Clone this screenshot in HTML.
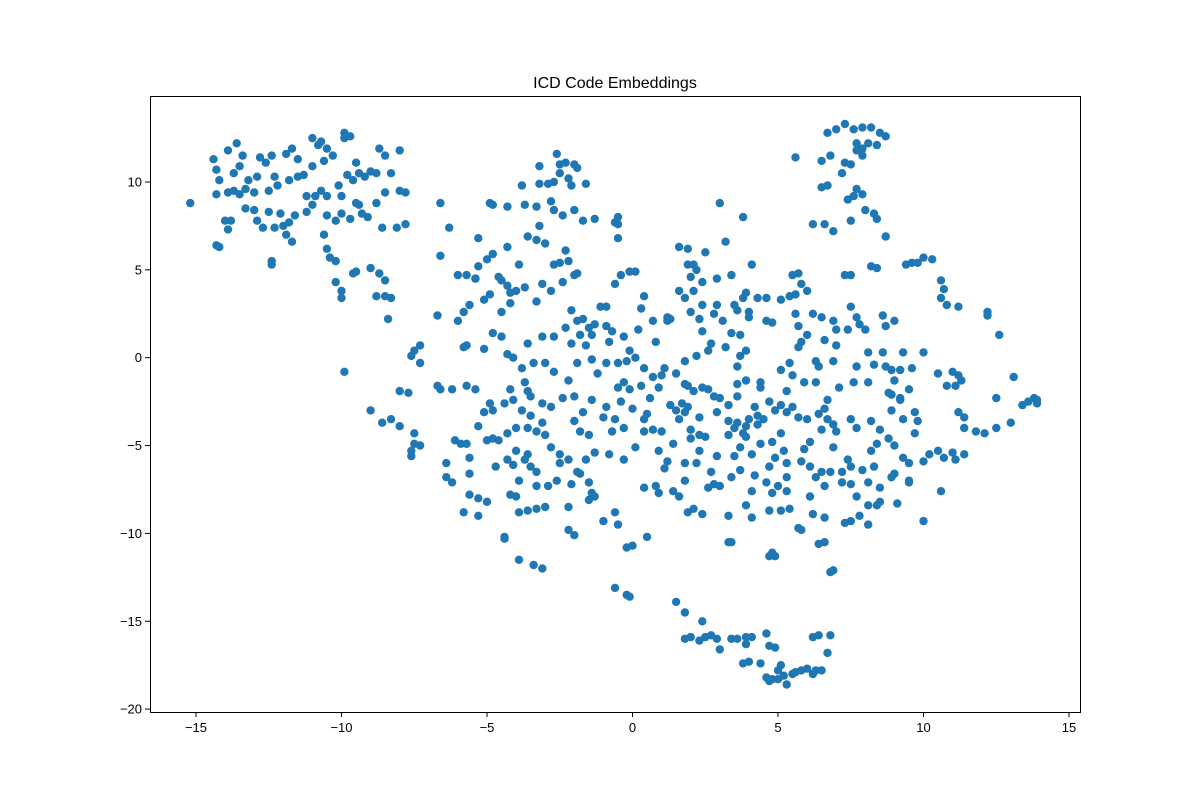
<!DOCTYPE html>
<html>
<head>
<meta charset="utf-8">
<style>
  html,body{margin:0;padding:0;background:#fff;}
  svg{display:block;font-family:"Liberation Sans","DejaVu Sans",sans-serif;}
</style>
</head>
<body>
<svg id="chart" width="1200" height="800" viewBox="0 0 1200 800">
  <rect x="0" y="0" width="1200" height="800" fill="#fff"/>
  <text x="615" y="88" text-anchor="middle" font-size="16" fill="#000">ICD Code Embeddings</text>
  <g id="points"></g>
  <g id="xticks"></g>
  <g id="yticks"></g>
  <rect x="150.5" y="96.5" width="930" height="616" fill="none" stroke="#000" stroke-width="1"/>
</svg>
<script>
const xTickValues = [-15,-10,-5,0,5,10,15];
const yTickValues = [-20,-15,-10,-5,0,5,10];
const xTickLabels = ["\u221215","\u221210","\u22125","0","5","10","15"];
const yTickLabels = ["\u221220","\u221215","\u221210","\u22125","0","5","10"];
const points = [
[-15.2,8.8],[-14.4,11.3],[-14.3,10.7],[-14.2,10.1],[-14.3,9.3],[-14.3,6.4],[-14.2,6.3],[-14,7.8],[-13.8,7.8],[-13.9,7.3],[-13.9,9.4],[-13.7,9.5],[-13.5,9.3],[-13.9,11.8],[-13.6,12.2],[-13.4,11.5],[-13.5,10.9],[-13.7,10.5],[-13.2,10.1],[-13.3,9.6],[-13.0,9.4],[-13.3,8.5],[-13,8.4],[-12.9,7.8],[-12.7,7.4],[-12.9,10.3],[-12.8,11.4],[-12.6,11.1],[-12.4,11.5],[-12.3,10.3],[-12.5,9.5],[-12.2,9.8],[-12.5,8.3],[-12.3,7.4],[-12.1,8.2],[-12,7.5],[-11.8,7.7],[-11.9,7],[-12.4,5.5],[-12.4,5.3],[-11.9,11.6],[-11.7,11.9],[-11.5,11.3],[-11.8,10.1],[-11.5,10.3],[-11.3,10.4],[-11.2,9.2],[-11.2,8.3],[-11.7,6.6],[-11.6,8.1],[-11,8.7],[-10.9,9.2],[-10.7,9.5],[-11,10.9],[-11,12.5],[-10.7,12.3],[-10.8,12.1],[-10.5,11.9],[-10.6,11.2],[-10.3,11.5],[-10.5,9.2],[-10.5,8.1],[-10.2,7.8],[-10.6,7],[-10.5,6.2],[-10.4,5.7],[-10.2,5.5],[-10,9.2],[-10.1,9.8],[-9.8,10.4],[-9.6,10.1],[-9.9,12.8],[-9.9,12.5],[-9.7,12.6],[-9.5,11.1],[-9.4,10.5],[-9.2,10.3],[-9.5,8.8],[-9.3,8.2],[-9.1,8],[-9.4,8.7],[-9.7,7.9],[-10,8.2],[-9.5,4.9],[-9.6,4.8],[-10.2,4.3],[-10,3.8],[-10.0,3.4],[-9.9,-0.8],[-9,5.1],[-8.7,4.8],[-8.5,4.4],[-8.8,3.5],[-8.5,3.5],[-8.3,3.4],[-8.4,2.2],[-9,10.6],[-8.8,10.5],[-8.7,11.9],[-8.5,11.5],[-8.3,10.5],[-8.5,9.4],[-8.8,8.8],[-8.6,7.4],[-8.1,7.4],[-8,9.5],[-7.8,9.4],[-7.8,7.6],[-8,11.8],[-7.6,0.1],[-7.5,0.4],[-7.3,0.7],[-7.3,-0.3],[-8,-1.9],[-7.7,-2],[-9,-3],[-8.6,-3.7],[-8.3,-3.5],[-8.0,-3.9],[-7.5,-4.9],[-7.6,-5.3],[-7.6,-5.6],[-7.3,-5],[-7.5,-4.3],
[-2.6,11.6],[-2.5,11],[-2.3,11.1],[-2.0,11],[-1.9,10.8],[-2.5,10.5],[-2.2,10.2],[-2.9,9.9],[-3.2,9.9],[-3.2,10.9],[-2.7,10],[-2.1,9.8],[-1.6,9.9],[-3.8,9.8],[-4.3,8.6],[-3.7,8.7],[-3.3,8.6],[-2.8,8.9],[-2.7,8.4],[-2.4,8.1],[-2.0,8.4],[-1.7,7.8],[-1.3,7.9],[-3.2,7.5],[-3.6,6.9],[-3.3,6.7],[-3,6.5],[-2.3,6.1],[-2.2,5.5],[-2.5,5.4],[-1.9,4.8],[-4.9,8.8],[-4.8,8.7],[-5.3,6.8],[-4.3,6.3],[-3.9,5.3],[-4.8,5.9],[-5,5.6],[-5.3,5.2],[-5.7,4.7],[-5.4,4.5],[-4.6,4.6],[-4.3,4.1],[-4,3.8],[-3.1,4.2],[-2.7,5.3],
[7.3,13.3],[7.6,13],[7.9,13.1],[8.2,13.1],[8.5,12.8],[8.7,12.6],[6.7,12.8],[7,13],[7.7,12.2],[7.7,11.8],[7.9,11.5],[8.1,12.2],[8.4,12.1],[7.9,11.9],[6.5,11.2],[5.6,11.4],[6.8,11.5],[7.3,11.1],[7.5,11],[7.2,10.5],[7.7,9.6],[7.6,9.2],[7.4,9],[7.9,9.3],[6.5,9.7],[6.7,9.8],[8,8.4],[8.3,8.2],[8.4,7.9],[7.5,7.8],[6.2,7.6],[6.6,7.6],[6.9,7.2],[8.7,6.9],[7.3,4.7],[7.5,4.7],[8.2,5.2],[8.4,5.1],[5.5,4.7],[5.7,4.8],
[9.4,5.3],[9.8,5.4],[10,5.7],[10.3,5.6],[9.6,5.4],[10.6,4.4],[10.7,3.9],[10.6,3.4],[10.8,3],[11.2,2.9],[12.2,2.6],[12.2,2.4],[12.6,1.3],[10,0.3],[9.3,0.3],[9.6,-0.6],[9.2,-0.7],[10.5,-0.9],[11,-0.8],[11.2,-1],[11.3,-1.3],[10.8,-1.6],[11.1,-1.6],[9.5,-1.8],[9.2,-2.3],[9.7,-3.1],[9.8,-3.6],[9.7,-4.3],[11.2,-3.1],[11.4,-3.4],[11.4,-4],[11.8,-4.2],[12.1,-4.3],[12.5,-4],[13,-3.7],[12.5,-2.3],[13.1,-1.1],[13.6,-2.5],[13.8,-2.3],[13.9,-2.4],[13.9,-2.6],[13.4,-2.7],[11,-5.4],[11.4,-5.5],[10.5,-5.3],[10,-5.9],[10.2,-5.5],[10.7,-5.7],[11.1,-5.8],[10.6,-7.6],[9.5,-7.1],[9.3,-5.7],[9.5,-6],[9,-6.6],[10,-9.3],[8.9,-6.8],
[-0.6,-13.1],[-0.2,-13.5],[-0.1,-13.6],[1.5,-13.9],[1.8,-14.5],[1.8,-16],[2,-15.9],[2.4,-15],[2.5,-15.9],[2.7,-15.8],[2.3,-16.1],[2.9,-16],[3,-16.6],[3.4,-16],[3.6,-16],[3.9,-15.9],[4.1,-15.9],[3.9,-16.3],[4.6,-15.7],[4.7,-16.4],[4.9,-16.5],[4,-17.3],[4.4,-17.4],[3.8,-17.4],[4.6,-18.2],[4.8,-18.3],[4.7,-18.4],[5,-18.3],[5.3,-18.6],[5.2,-18.1],[5.6,-17.9],[5.5,-18],[5.8,-17.8],[6,-17.7],[6.3,-17.8],[6.5,-17.8],[6.2,-18],[5,-17.8],[6.2,-15.9],[6.4,-15.8],[6.8,-15.8],[6.7,-16.8],[5.1,-17.5],
[-6.6,5.8],[-6.3,7.4],[-6.6,8.8],[-6.7,2.4],[-6,2.1],[-5.8,2.6],[-5.6,3],[-5.4,4.5],[-5.1,3.3],[-4.9,3.6],[-4.5,2.6],[-4.2,3.1],[-6,4.7],[-5.8,0.6],[-5.7,0.7],[-5.1,0.5],[-6.2,-1.8],[-6.7,-1.6],[-6.6,-1.8],[-5.7,-1.6],[-4.9,-2.6],[-4.8,-3],[-5.1,-3.1],[-6.1,-4.7],[-5.9,-4.9],[-5.7,-4.9],[-6.4,-6],[-6.4,-6.8],[-6.2,-7.1],[-5.6,-5.7],[-5.6,-6.6],[-4.7,-6.2],[-4.6,-4.7],[-5,-4.7],[-5.3,-3.9],[-5.6,-7.8],[-5.3,-8],[-5,-8.2],[-5.8,-8.8],[-5.3,-9],[-4.4,-10.2],[-4.4,-10.3],[-3.9,-11.5],[-3.4,-11.8],[-3.1,-12],[-4.2,-7.8],[-4.0,-7.9],[-3.9,-8.8],[-3.6,-8.7],[-3.3,-8.6],[-3,-8.5],[-4.3,-5.8],[-4,-5.3],[-3.6,-5.5],[-3.7,-5.8],[-4.1,-6.1],[-3.5,-6.2],[-3.3,-6.5],[-3.9,-7],[-3.3,-7.3],[-2.9,-7.3],[-2.6,-7],[-2.5,-6],[-2.2,-5.8],[-2.5,-5.5],[-2.8,-5.1],[-3,-4.4],[-3.3,-4.2],[-3.6,-4],[-4,-4],[-4.3,-4.3],[-3.8,-3],[-3.5,-3.3],[-3.1,-3.7],[-4.4,-2.6],[-4.1,-2.4],[-4.2,-1.8],[-3.7,-1.4],[-3.6,-1.9],[-3.5,-2.2],[-3.1,-2.6],[-2.8,-2.8],[-4.3,0.2],[-4.1,0],[-3.8,-0.6],[-3.4,-0.3],[-3,-0.3],[-2.7,-0.8],[-2.2,-1.3],[-2.4,-2.3],[-2,-2.2],[-4.8,1.4],[-4.5,1.2],[-3.6,0.8],[-3.1,1.2],[-2.7,1.2],[-2.3,1.7],[-4.5,4.4],[-4.2,3.7],[-3.7,4],[-3.3,3.2],[-2.8,3.8],[-2.4,4.3],[-2,4.7],[-2.1,2.7],[-1.7,2.2],[-1.5,1.7],[-1.8,1.3],[-1.4,1.3],[-1.1,2.9],[-0.9,1.8],[-0.7,1.5],[-0.8,0.9],[-1.6,0.7],[-2.1,0.8],[-1.9,-0.3],[-1.4,-0.1],[-1.2,-0.9],[-0.9,-0.3],[-0.5,-0.3],[-0.2,-0.2],[-0.3,-1.4],[-0.5,-1.7],[-0.1,-1.8],[-1.4,-2.4],[-1.7,-3.1],[-2,-3.6],[-1.8,-4.2],[-1.5,-4.4],[-1,-3.4],[-0.9,-2.8],[-0.4,-2.5],[0,-2.9],[-0.6,-3.5],[-0.3,-4],[-0.7,-4.2],[-0.8,-5.5],[-0.3,-5.8],[-1.3,-5.4],[-1.6,-5.8],[-1.9,-6.5],[-1.8,-6.6],[-1.5,-7.1],[-2.1,-7.2],[-1.4,-7.7],[-1.5,-8.1],[-1.3,-7.9],[-2.2,-8.5],[-2.2,-9.8],[-2,-10.1],[-1,-9.3],[-0.6,-8.8],[-0.5,-9.5],[-0.2,-10.8],[0,-10.7],[0.5,-10.2],[0.1,-5.1],[0.4,-4.2],[0.7,-4.1],[1,-4.2],[0.4,-3.5],[0.6,-2.3],[0.9,-1.7],[0.7,-1.1],[1.0,-1.0],[0.4,-0.6],[0.1,0],[-0.1,0.4],[0.2,1.6],[0.7,2.1],[0.3,2.8],[0.4,3.5],[1.2,2.1],[1.3,2.2],[-0.3,1.2],[-0.1,4.9],[0.1,4.9],[-0.4,4.7],[-0.6,4.2],[-0.5,6.8],[-0.5,7.6],[-0.6,7.7],[-0.5,8],[0.9,-5.3],[0.4,-7.4],[0.8,-7.3],[0.9,-7.7],[1.3,-2.7],[1.5,-3],[1.8,-3.1],[1.6,-3.5],[2,-4.6],[2.3,-4.4],[2.5,-4.5],[1.8,-6],[2.2,-6],[2.3,-5.3],[1.8,-7],[1.4,-7.6],[1.6,-7.9],[1.9,-8.8],[2.1,-8.6],[2.4,-8.9],[2.8,-7.2],[3,-7.3],[3.4,-6.8],[3.5,-5.6],[3.3,-4.4],[3.5,-4],[3.8,-4.3],[3.9,-4.5],[3.6,-3.7],[4,-3.5],[4.3,-3.8],[4.5,-3.5],[4.2,-2.8],[4.7,-2.5],[4.9,-3],[5.1,-2.7],[5.3,-3.1],[5.1,-4.3],[4.8,-4.8],[5.2,-5.3],[4.9,-5.7],[5.3,-6],[4.7,-6.2],[4.2,-6.7],[4.6,-7.1],[5,-7.3],[5.3,-6.8],[4.8,-7.7],[5.3,-7.6],[4.1,-7.6],[5.1,-8.7],[4.7,-8.7],[5.4,-8.6],[4.7,-11.3],[4.8,-11.1],[4.9,-11.3],[3.4,-10.5],[3.3,-10.5],[3.9,-8.4],[4.1,-9.1],[3.7,-6.4],[3.3,-2.7],[3.0,-2.3],[2.8,-2.2],[2.6,-1.8],[2.4,-1.7],[2.1,-1.9],[1.9,-1.6],[1.8,-1.5],[1.5,-0.9],[1.8,-0.2],[2.2,0.1],[2.6,0.4],[2.7,0.8],[3.2,0.6],[3.4,1.4],[3.7,1.3],[3.1,2.1],[2.8,2.5],[2.3,2.2],[2.0,2.6],[1.8,3.4],[2.1,3.8],[2.4,3.0],[2.9,3.0],[3.5,3],[3.8,3.4],[3.9,3.7],[4.3,3.4],[4.6,3.4],[4.0,2.6],[4.0,2.3],[3.6,2.7],[4.6,2.1],[4.8,2.0],[3.7,0.1],[3.9,0.4],[3.6,-0.5],[3.9,-1.3],[3.6,-1.5],[4.4,-1.4],[4.4,-1.7],[3.6,-2.2],[2.9,-3.1],[3.3,-3.6],[2.3,-3.4],[1.9,-2.8],[1.7,-2.6],[1.9,5.3],[2.1,5.3],[2.2,5],[2,4.6],[2.5,6],[2.4,4.3],[3.2,6.6],[3,8.8],[3.8,8],[4.1,5.3],[3.4,4.7],[2.9,4.5],[1.6,6.3],[1.9,6.2],[1.6,3.8],[2.4,1.5],[5.1,3.3],[5.4,3.5],[5.6,3.6],[5.6,2.5],[5.8,4.2],[6,3.8],[5.7,1.8],[6,1.3],[5.8,0.9],[5.7,0.6],[6.2,2.5],[6.5,2.3],[6.9,2.1],[7.0,1.6],[6.6,1],[7.0,0.7],[6.3,-0.2],[6.9,-0.2],[6.4,-0.5],[5.4,-0.3],[5.1,-0.7],[5.5,-1],[5.3,-1.9],[5.9,-1.4],[6.3,-1.4],[6.7,-2.4],[6.6,-2.9],[6.4,-3.2],[6,-3.5],[5.5,-2.8],[5.7,-3.4],[6.7,-3.5],[6.9,-3.8],[7,-4.2],[6.5,-4.1],[6.1,-4.8],[5.9,-5.2],[5.8,-5.9],[6.1,-6.2],[6.5,-6.5],[6.3,-6.8],[6.6,-7.3],[6.1,-7.9],[6.2,-8.9],[6.6,-9.1],[6.4,-10.6],[6.6,-10.5],[6.9,-12.1],[6.8,-12.2],[7.3,-9.4],[7.5,-9.3],[7.8,-9],[8.1,-8.4],[8.1,-9.5],[8.4,-8.4],[7.7,-7.9],[7.2,-7.1],[7.5,-7.2],[8.1,-7.1],[8.5,-7.4],[7.4,-5.8],[7.5,-6.2],[7.9,-6.4],[8.3,-6.2],[8.2,-5.3],[8.4,-4.9],[8.5,-4.1],[8.2,-3.6],[7.5,-3.5],[7.7,-4],[6.9,-5.1],[6.8,-6.5],[7.2,-6.5],[5.8,-9.8],[5.7,-9.7],[7.1,-1.7],[7.6,-1.4],[7.7,-0.5],[8.1,-1.4],[8.3,-0.4],[8.7,-0.5],[8.9,-0.7],[9,-1.3],[8.6,0.3],[8.7,1.8],[9,2.1],[8.6,2.4],[8,1.6],[7.8,1.9],[7.7,2.3],[7.5,2.9],[7.4,1.6],[8.1,0.3],[8.8,-2],[8.9,-2.1],[9.2,-2.4],[8.9,-3],[9.3,-3.5],[8.8,-4.6],[9,-5],[9.5,-7],[9.1,-8.3],[8.5,-8.2],[4.3,-3.3],[3.9,-3.9],[4.4,-4.9],[4.1,-5.5],[3.7,-5.1],[2.6,-7.4],[2.7,-6.5],[2.9,-5.6],[3.3,-9],[2,-4.1],[1.4,-4.9],[1.2,-5.9],[1.1,-6.3],[0.5,-3.2],[0.3,-1.6],[1.2,2.3],[0.8,0.9],[1.1,-0.6],[-1.3,1.9],[-0.9,2.9],[-1.9,2.1],[-5.4,-1.8],[-4.8,-4.6]
];

const plot = {left:150, right:1080, top:96, bottom:712};
const xScale = v => 632.5 + v * 29.1;
const yScale = v => 357.7 - v * 17.57;
const NS = "http://www.w3.org/2000/svg";

const pg = document.getElementById('points');
points.forEach((p) => {
  const c = document.createElementNS(NS, 'circle');
  c.setAttribute('cx', xScale(p[0]).toFixed(1));
  c.setAttribute('cy', yScale(p[1]).toFixed(1));
  c.setAttribute('r', 4.2);
  c.setAttribute('fill', '#1f77b4');
  
  
  pg.appendChild(c);
});

const xg = document.getElementById('xticks');
xTickValues.forEach((v, i) => {
  const x = xScale(v);
  const l = document.createElementNS(NS, 'line');
  l.setAttribute('x1', x); l.setAttribute('x2', x);
  l.setAttribute('y1', plot.bottom); l.setAttribute('y2', plot.bottom + 5);
  l.setAttribute('stroke', '#000');
  
  
  xg.appendChild(l);
  const t = document.createElementNS(NS, 'text');
  t.setAttribute('x', x); t.setAttribute('y', plot.bottom + 20);
  t.setAttribute('text-anchor', 'middle');
  t.setAttribute('font-size', '13');
  t.textContent = xTickLabels[i];
  
  
  xg.appendChild(t);
});

const yg = document.getElementById('yticks');
yTickValues.forEach((v, i) => {
  const y = yScale(v);
  const l = document.createElementNS(NS, 'line');
  l.setAttribute('x1', plot.left - 5); l.setAttribute('x2', plot.left);
  l.setAttribute('y1', y); l.setAttribute('y2', y);
  l.setAttribute('stroke', '#000');
  
  
  yg.appendChild(l);
  const t = document.createElementNS(NS, 'text');
  t.setAttribute('x', plot.left - 8); t.setAttribute('y', y + 4.5);
  t.setAttribute('text-anchor', 'end');
  t.setAttribute('font-size', '13');
  t.textContent = yTickLabels[i];
  
  
  yg.appendChild(t);
});
</script>
</body>
</html>
